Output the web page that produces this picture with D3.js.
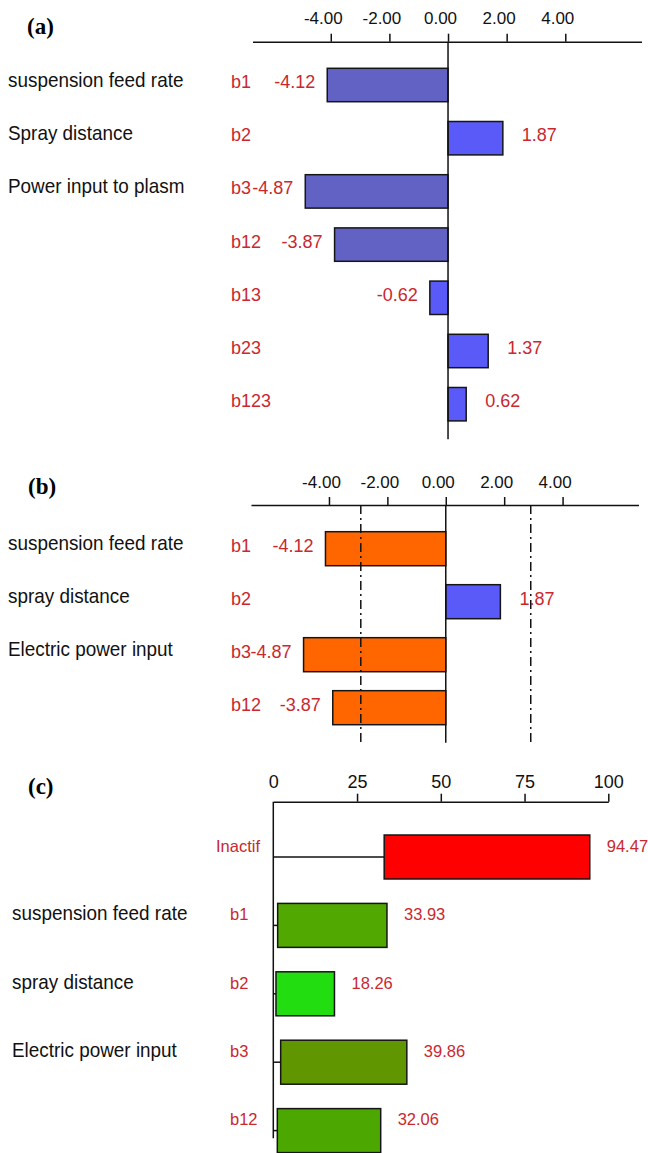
<!DOCTYPE html>
<html>
<head>
<meta charset="utf-8">
<script src="https://cdn.jsdelivr.net/npm/d3@7"></script>
<style>
  body { margin: 0; background: #fff; }
</style>
</head>
<body>
<div id="chart"></div>
<script>
// (a) all effects
const codesA = ["b1", "b2", "b3", "b12", "b13", "b23", "b123"];
const valuesA = [-4.12, 1.87, -4.87, -3.87, -0.62, 1.37, 0.62];
const namesA = ["suspension feed rate", "Spray distance", "Power input to plasm"];

// (b) significant effects
const codesB = ["b1", "b2", "b3", "b12"];
const valuesB = [-4.12, 1.87, -4.87, -3.87];
const namesB = ["suspension feed rate", "spray distance", "Electric power input"];
const critB = [-2.91, 2.91];

// (c) contributions (%)
const codesC = ["Inactif", "b1", "b2", "b3", "b12"];
const valuesC = [94.47, 33.93, 18.26, 39.86, 32.06];
const startsC = [33.1, 1.3, 0.8, 2.2, 1.2];
const namesC = ["suspension feed rate", "spray distance", "Electric power input"];

const ticksEff = [-4, -2, 0, 2, 4];
const ticksPct = [0, 25, 50, 75, 100];

// colours
const fillA = {b1: "#6262c4", b2: "#5a5af8", b3: "#6262c4", b12: "#6262c4", b13: "#5a5af8", b23: "#5a5af8", b123: "#5a5af8"};
const fillB = {b1: "#ff6600", b2: "#5a5af8", b3: "#ff6600", b12: "#ff6600"};
const fillC = {Inactif: "#ff0000", b1: "#50a800", b2: "#22dd10", b3: "#609600", b12: "#4ca800"};

const RED = "#c9282f";
const FONT = "'Liberation Sans', Arial, sans-serif";

let svg = d3.select("#chart").append("svg")
  .attr("width", 648)
  .attr("height", 1153);

function panelLetter(txt, x, y) {
  svg.append("text")
    .attr("x", x).attr("y", y)
    .attr("font-family", "'Liberation Serif', 'Times New Roman', serif")
    .attr("font-weight", "bold")
    .attr("font-size", 23)
    .text(txt);
}

// black labels look condensed, squeeze them a bit
function nameLabel(txt, x, y) {
  svg.append("text")
    .attr("transform", `translate(${x},${y}) scale(0.9,1)`)
    .attr("font-family", FONT)
    .attr("font-size", 21)
    .attr("fill", "#111")
    .text(txt);
}

function effectPanel(o) {
  let x = d3.scaleLinear().domain([-6.67, 6.6]).range(o.xr);
  let y = d3.scaleBand().domain(o.codes).range(o.yr).paddingInner(o.pad);
  let g = svg.append("g");

  let ax = g.append("g")
    .attr("transform", `translate(0,${o.axisY})`)
    .call(d3.axisTop(x).tickValues(ticksEff).tickFormat(d => d.toFixed(2))
      .tickSize(8).tickSizeOuter(0).tickPadding(o.tpad));
  ax.select(".domain").attr("stroke", "#111").attr("stroke-width", 1.5);
  ax.selectAll(".tick line").attr("stroke", "#111").attr("stroke-width", 1.5);
  ax.selectAll(".tick text")
    .attr("dx", -8)
    .attr("font-size", 17)
    .attr("font-family", FONT)
    .attr("fill", "#111");

  // bars
  g.selectAll("rect.bar").data(o.values).enter().append("rect")
    .attr("class", "bar")
    .attr("x", d => x(Math.min(0, d)))
    .attr("y", (d, i) => y(o.codes[i]))
    .attr("width", d => Math.abs(x(d) - x(0)))
    .attr("height", y.bandwidth())
    .attr("fill", (d, i) => o.fill[o.codes[i]])
    .attr("stroke", "#151515")
    .attr("stroke-width", 1.5);

  // zero line
  g.append("line")
    .attr("x1", x(0)).attr("x2", x(0))
    .attr("y1", o.axisY).attr("y2", o.lineEnd)
    .attr("stroke", "#111").attr("stroke-width", 1.5);

  // critical lines (b)
  if (o.crit) {
    g.selectAll("line.crit").data(o.crit).enter().append("line")
      .attr("class", "crit")
      .attr("x1", d => x(d)).attr("x2", d => x(d))
      .attr("y1", o.axisY).attr("y2", o.lineEnd)
      .attr("stroke", "#111").attr("stroke-width", 1.5)
      .attr("stroke-dasharray", "9,4,2,4");
  }

  // codes
  g.selectAll("text.code").data(o.codes).enter().append("text")
    .attr("class", "code")
    .attr("x", 231)
    .attr("y", d => y(d) + y.bandwidth() / 2 + 3)
    .attr("font-family", FONT).attr("font-size", 18)
    .attr("fill", RED)
    .text(d => d);

  // values
  g.selectAll("text.val").data(o.values).enter().append("text")
    .attr("class", "val")
    .attr("x", d => d < 0 ? x(d) - 12 : x(d) + 19)
    .attr("y", (d, i) => y(o.codes[i]) + y.bandwidth() / 2 + 3)
    .attr("text-anchor", d => d < 0 ? "end" : "start")
    .attr("font-family", FONT).attr("font-size", 18)
    .attr("fill", RED)
    .text(d => d.toFixed(2));

  o.names.forEach((n, i) => {
    nameLabel(n, 8, y(o.codes[i]) + y.bandwidth() / 2 + 1.5);
  });
}

// (a)
panelLetter("(a)", 27, 33.5);
effectPanel({
  codes: codesA, values: valuesA, names: namesA, fill: fillA,
  xr: [252.5, 641.5], yr: [68.3, 420.9], pad: 0.372,
  axisY: 41.7, lineEnd: 439.3, tpad: 10
});

// (b)
panelLetter("(b)", 28, 493.5);
effectPanel({
  codes: codesB, values: valuesB, names: namesB, fill: fillB, crit: critB,
  xr: [251, 638.5], yr: [531.7, 724.7], pad: 0.358,
  axisY: 505, lineEnd: 742.7, tpad: 9
});

// (c)
panelLetter("(c)", 28, 793.5);
(function () {
  let x = d3.scaleLinear().domain([0, 100]).range([273.3, 608.3]);
  let y = d3.scaleBand().domain(codesC).range([835, 1152.6]).paddingInner(0.357);
  let g = svg.append("g");
  let axisY = 801.7;

  let ax = g.append("g")
    .attr("transform", `translate(0,${axisY})`)
    .call(d3.axisTop(x).tickValues(ticksPct).tickSize(8).tickSizeOuter(0).tickPadding(6));
  ax.select(".domain").attr("stroke", "#111").attr("stroke-width", 1.5);
  ax.selectAll(".tick line").attr("stroke", "#111").attr("stroke-width", 1.5);
  ax.selectAll(".tick line").filter(d => d === 0).remove();
  ax.selectAll(".tick text")
    .attr("font-size", 18)
    .attr("font-family", FONT)
    .attr("fill", "#111");

  g.append("line")
    .attr("x1", x(0)).attr("x2", x(0))
    .attr("y1", axisY).attr("y2", 1138.3)
    .attr("stroke", "#111").attr("stroke-width", 1.5);

  // stubs from the axis to the bar start
  g.selectAll("line.stub").data(startsC).enter().append("line")
    .attr("class", "stub")
    .attr("x1", x(0)).attr("x2", d => x(d))
    .attr("y1", (d, i) => y(codesC[i]) + y.bandwidth() / 2)
    .attr("y2", (d, i) => y(codesC[i]) + y.bandwidth() / 2)
    .attr("stroke", "#111").attr("stroke-width", 1.5);

  g.selectAll("rect.bar").data(valuesC).enter().append("rect")
    .attr("class", "bar")
    .attr("x", (d, i) => x(startsC[i]))
    .attr("y", (d, i) => y(codesC[i]))
    .attr("width", (d, i) => x(d) - x(startsC[i]))
    .attr("height", y.bandwidth())
    .attr("fill", (d, i) => fillC[codesC[i]])
    .attr("stroke", "#151515")
    .attr("stroke-width", 1.5);

  g.selectAll("text.code").data(codesC).enter().append("text")
    .attr("class", "code")
    .attr("x", d => d === "Inactif" ? 216 : 230)
    .attr("y", d => y(d) + 16.7)
    .attr("font-family", FONT).attr("font-size", 16.5)
    .attr("fill", RED)
    .text(d => d);

  g.selectAll("text.val").data(valuesC).enter().append("text")
    .attr("class", "val")
    .attr("x", d => x(d) + 17)
    .attr("y", (d, i) => y(codesC[i]) + 16.7)
    .attr("font-family", FONT).attr("font-size", 16.5)
    .attr("fill", RED)
    .text(d => d.toFixed(2));

  namesC.forEach((n, i) => {
    nameLabel(n, 12, y(codesC[i + 1]) + 16.7);
  });
})();
</script>
</body>
</html>
